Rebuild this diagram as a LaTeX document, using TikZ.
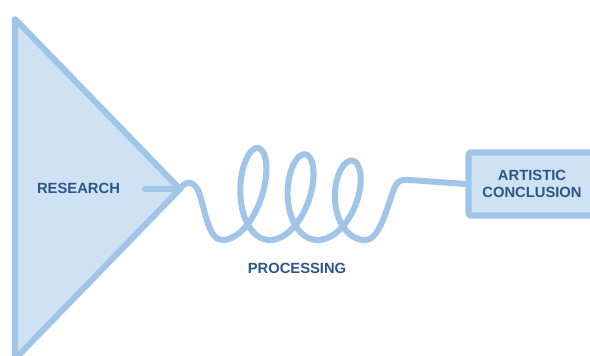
\documentclass[tikz,border=0pt]{standalone}
\usepackage{fontspec}
\setmainfont{Liberation Sans}
\usetikzlibrary{arrows.meta,positioning}
\definecolor{lineblue}{RGB}{160,197,232}
\definecolor{fillblue}{RGB}{207,226,243}
\definecolor{textblue}{RGB}{44,86,140}
\tikzset{
  txt/.style={text=textblue,font=\bfseries\fontsize{10.5}{12.2}\selectfont,align=center},
  outline/.style={draw=lineblue,line width=4.3pt,line join=round,line cap=round},
  resultbox/.style={outline,fill=fillblue,rounded corners=1.5pt,minimum width=3.175cm,minimum height=1.575cm,inner sep=0pt}
}

\begin{document}
\begin{tikzpicture}[x=0.025cm,y=-0.025cm]
  \clip (0,0) rectangle (590,355);
  \useasboundingbox (0,0) rectangle (590,355);

  \coordinate (top) at (15,19);
  \coordinate (apex) at (180,189);
  \coordinate (bot) at (15,359);
  \filldraw[outline,fill=fillblue] (top) -- (apex) -- (bot) -- cycle;

  \node[txt] (research) at (78.5,188) {RESEARCH};
  \coordinate (feed) at (145,189);
  \draw[outline] (feed) -- (apex);

  \node[resultbox,txt] (concl) at (532,184) {ARTISTIC\\CONCLUSION};
  \node[txt] (proc) at (297,268) {PROCESSING};

  % coil between research and conclusion
  \draw[outline] (apex) .. controls (185,181) and (192,180) .. (198,190)
    .. controls (205,208) and (208,240) .. (222,240)
    -- plot[domain=-pi:5*pi,samples=241,variable=\t]
       ({246+7.6*\t-23*sin(\t r)+0.12*(46-0.5*\t)*(1+cos(\t r))},
        {240-(46-0.5*\t)*(1+cos(\t r))})
    .. controls (382,240) and (390,194) .. (396,185)
    .. controls (400,179) and (404,180) .. (410,180)
    -- (concl.west);
\end{tikzpicture}
\end{document}
